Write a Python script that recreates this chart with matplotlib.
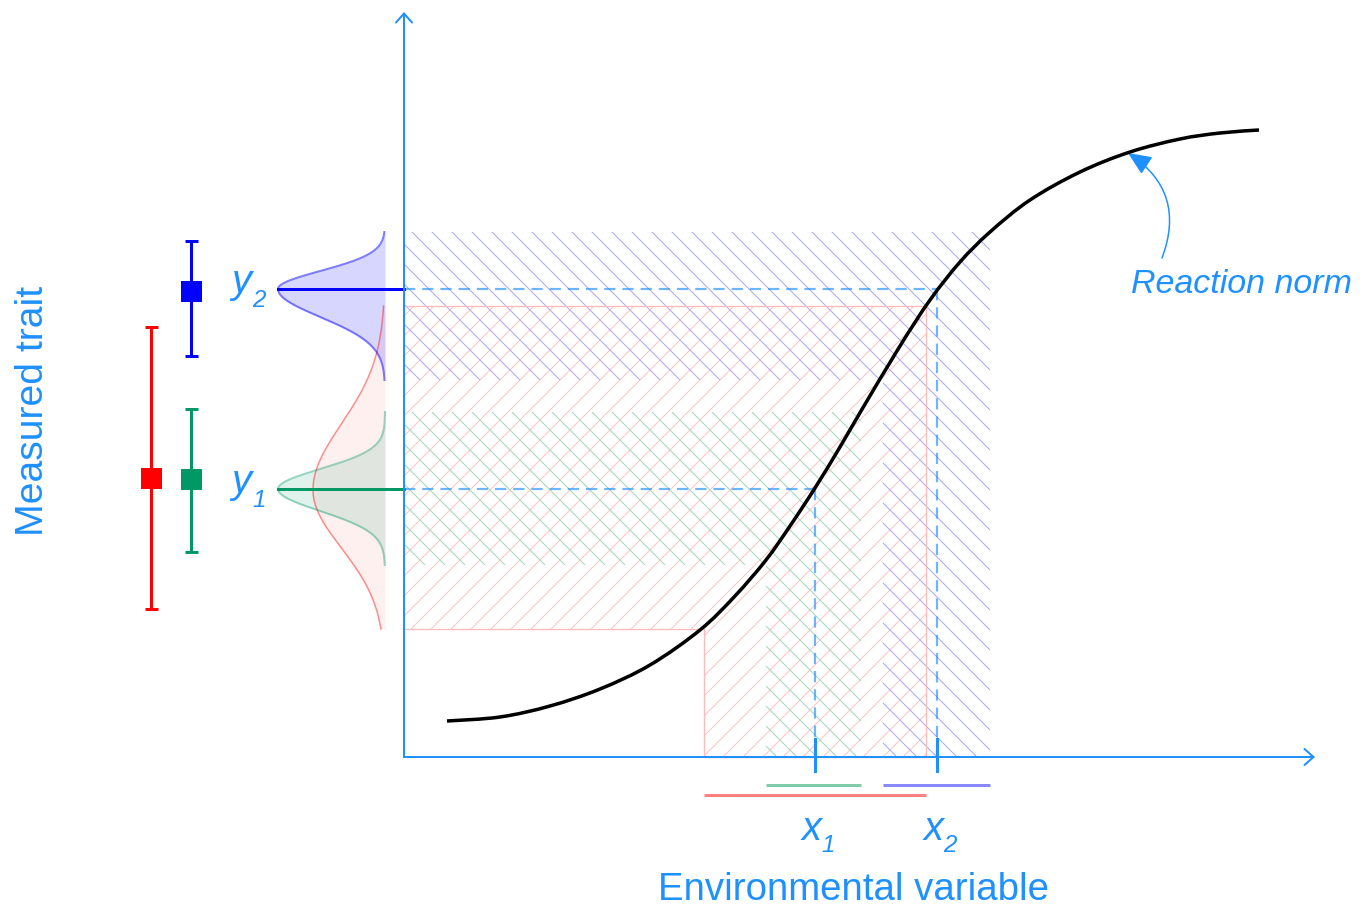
import numpy as np
import matplotlib.pyplot as plt
from matplotlib.patches import Polygon, FancyArrowPatch, PathPatch
from matplotlib.path import Path

plt.rcParams['font.family'] = ['Liberation Sans', 'DejaVu Sans']
plt.rcParams['hatch.linewidth'] = 0.6

# reaction norm (environment, trait)
norm_env = [0.43, 0.96, 1.46, 1.96, 2.46, 2.96, 3.31, 3.62, 3.86, 4.11, 4.36,
            4.57, 4.96, 5.26, 5.56, 5.86, 6.26, 6.76, 7.26, 7.76, 8.16, 8.55]
norm_trait = [0.36, 0.40, 0.51, 0.68, 0.92, 1.27, 1.61, 1.97, 2.31, 2.69, 3.10,
              3.46, 4.11, 4.57, 4.95, 5.25, 5.57, 5.85, 6.05, 6.18, 6.24, 6.27]

# groups: red = pooled sample, green = population 1, blue = population 2
env_lo = [3.00, 3.62, 4.79]
env_hi = [5.22, 4.57, 5.86]
trait_lo = [1.28, 1.92, 3.77]
trait_hi = [4.51, 3.45, 5.25]

# trait distributions on the left: mode, spread above / below, height
dist_mode = [2.67, 2.68, 4.68]
dist_sd_up = [0.66, 0.20, 0.18]
dist_sd_down = [0.58, 0.22, 0.28]
dist_height = [0.72, 1.07, 1.07]

# mean and range bars
bar_mean = [2.79, 2.78, 4.66]
bar_lo = [1.48, 2.05, 4.01]
bar_hi = [4.30, 3.48, 5.16]

x_marks = [4.11, 5.33]
y_marks = [2.68, 4.68]

main_cols = ['#FF0000', '#009966', '#0000FF']
hatch_cols = ['#FFC4C4', '#A3D6BD', '#A8A8F2']
range_cols = ['#FF8080', '#80CCAA', '#8888FF']
hatches = ['//', '\\\\', '\\\\']
fill_alpha = [0.06, 0.12, 0.16]
edge_alpha = [0.45, 0.4, 0.5]
blue = '#1E90FF'

fig = plt.figure(figsize=(1372 / 120, 909 / 120), dpi=120)
ax = fig.add_axes([0, 0, 1, 1])
ax.set_xlim(-4.04, 9.68)
ax.set_ylim(-1.52, 7.57)
ax.axis('off')

# hatched L-shaped bands
for i in range(3):
    verts = [(0, trait_hi[i]), (env_hi[i], trait_hi[i]), (env_hi[i], 0),
             (env_lo[i], 0), (env_lo[i], trait_lo[i]), (0, trait_lo[i])]
    ax.add_patch(Polygon(verts, closed=True, facecolor='none', edgecolor=hatch_cols[i],
                         hatch=hatches[i], lw=0, zorder=1))
    if i == 0:
        ax.add_patch(Polygon(verts, closed=True, fill=False, edgecolor='#FFBABA',
                             lw=0.8, zorder=1.5))

# dashed guides
for xm, ym in zip(x_marks, y_marks):
    ax.plot([0, xm], [ym, ym], color=blue, alpha=0.65, lw=1.3, ls=(0, (5.2, 3.2)), zorder=2)
    ax.plot([xm, xm], [ym, 0], color=blue, alpha=0.65, lw=1.3, ls=(0, (5.2, 3.2)), zorder=2)
    ax.plot([xm, xm], [0.18, -0.14], color=blue, lw=1.8, zorder=3)

# reaction norm as a smooth path through the read points
pts = np.column_stack([norm_env, norm_trait])
ext = np.vstack([pts[0], pts, pts[-1]])
verts = [pts[0]]
codes = [Path.MOVETO]
for i in range(len(pts) - 1):
    p0, p1, p2, p3 = ext[i], ext[i + 1], ext[i + 2], ext[i + 3]
    verts += [p1 + (p2 - p0) / 6, p2 - (p3 - p1) / 6, p2]
    codes += [Path.CURVE4] * 3
ax.add_patch(PathPatch(Path(verts, codes), fill=False, edgecolor='black', lw=2.1,
                       capstyle='butt', zorder=4))

# axes with open arrow heads
for end in [(0, 7.45), (9.11, 0)]:
    ax.add_patch(FancyArrowPatch((0, 0), end, arrowstyle='->,head_length=0.45,head_width=0.4',
                                 mutation_scale=12, color=blue, lw=1.2,
                                 shrinkA=0, shrinkB=0, zorder=5))

# ranges of the environment under the x axis
for i, yy in zip(range(3), [-0.38, -0.28, -0.28]):
    ax.plot([env_lo[i], env_hi[i]], [yy, yy], color=range_cols[i], lw=1.8, solid_capstyle='butt')

# distributions of the trait
base = -0.19
for i in range(3):
    y = np.linspace(trait_lo[i], trait_hi[i], 300)
    sd = np.where(y > dist_mode[i], dist_sd_up[i], dist_sd_down[i])
    x = base - dist_height[i] * np.exp(-0.5 * ((y - dist_mode[i]) / sd) ** 2)
    ax.fill_betweenx(y, x, base, color=main_cols[i], alpha=fill_alpha[i], lw=0, zorder=2)
    ax.plot(x, y, color=main_cols[i], alpha=edge_alpha[i], lw=1.2 if i else 0.9, zorder=3)

# solid lines from the modes to the trait axis
ax.plot([base - dist_height[1], 0], [y_marks[0]] * 2, color=main_cols[1], lw=1.8, zorder=4)
ax.plot([base - dist_height[2], 0], [y_marks[1]] * 2, color=main_cols[2], lw=1.8, zorder=4)

# mean with range
for i, xb in zip(range(3), [-2.53, -2.13, -2.13]):
    ax.plot([xb, xb], [bar_lo[i], bar_hi[i]], color=main_cols[i], lw=1.8, zorder=4)
    ax.plot([xb, xb], [bar_lo[i], bar_hi[i]], ls='none', marker='_', markersize=7.8,
            markeredgewidth=1.8, color=main_cols[i], zorder=4)
    ax.plot([xb], [bar_mean[i]], ls='none', marker='s', markersize=12.6,
            markeredgewidth=0, color=main_cols[i], zorder=5)

# labels
for k, ym in enumerate(y_marks):
    ax.text(-1.73, ym - 0.04, 'y', color=blue, fontsize=24, style='italic',
            ha='left', va='baseline')
    ax.text(-1.52, ym - 0.18, str(k + 1), color=blue, fontsize=14.5, style='italic',
            ha='left', va='baseline')
for k, xm in enumerate(x_marks):
    ax.text(xm - 0.13, -0.83, 'x', color=blue, fontsize=24, style='italic',
            ha='left', va='baseline')
    ax.text(xm + 0.06, -0.95, str(k + 1), color=blue, fontsize=14.5, style='italic',
            ha='left', va='baseline')
ax.text(4.49, -1.43, 'Environmental variable', color=blue, fontsize=23,
        ha='center', va='baseline')
ax.text(-3.61, 3.46, 'Measured trait', color=blue, fontsize=23.5, rotation=90,
        rotation_mode='anchor', ha='center', va='baseline')
ax.text(7.27, 4.64, 'Reaction norm', color=blue, fontsize=20.4, style='italic',
        ha='left', va='baseline')
ax.annotate('', xy=(7.24, 6.04), xytext=(7.58, 4.99),
            arrowprops=dict(arrowstyle='-|>,head_length=0.8,head_width=0.35',
                            mutation_scale=15, color=blue, lw=0.9,
                            connectionstyle='arc3,rad=0.4', shrinkA=0, shrinkB=0))

fig.savefig('out.png', dpi=120)
